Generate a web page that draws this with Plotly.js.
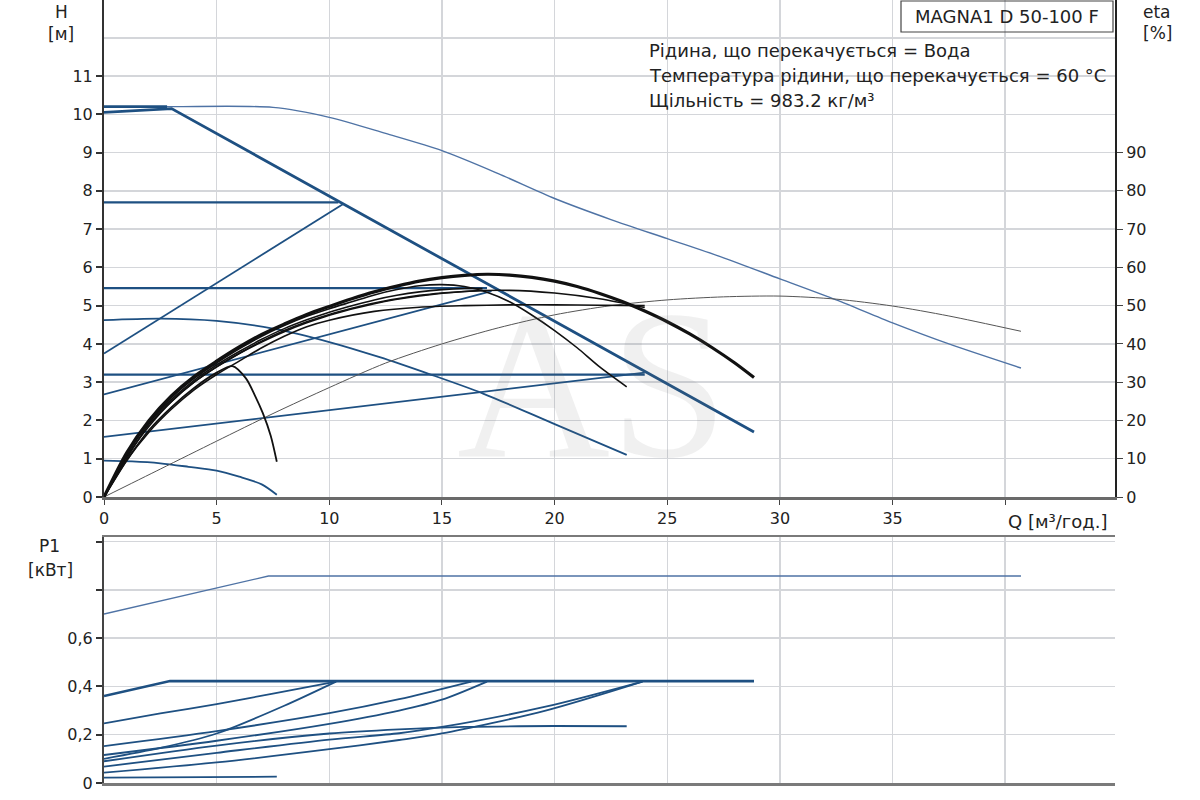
<!DOCTYPE html>
<html>
<head>
<meta charset="utf-8">
<script src="https://cdn.plot.ly/plotly-3.0.1.min.js"></script>
<style>html,body{margin:0;padding:0;background:#fff;}#chart{width:1200px;height:800px;}</style>
</head>
<body>
<div id="chart"></div>
<script>
// ---------- H (head) curves, blue, left axis [m] ----------
const Q_maxCurve = [0, 3, 7.5, 10, 12.5, 15, 17.5, 20, 22.5, 25, 27.5, 30, 32.5, 35, 37.5, 40.7];
const H_maxCurve = [10.2, 10.2, 10.18, 9.92, 9.5, 9.05, 8.45, 7.8, 7.25, 6.75, 6.25, 5.7, 5.15, 4.55, 4.0, 3.37];

const Q_cp10 = [0, 2.8];           const H_cp10 = [10.2, 10.2];
const Q_ppMax = [0, 3, 28.85];     const H_ppMax = [10.05, 10.15, 1.7];
const Q_cp77 = [0, 10.4];          const H_cp77 = [7.7, 7.7];
const Q_pp2 = [0, 10.6];           const H_pp2 = [3.75, 7.65];
const Q_cp55 = [0, 17.0];          const H_cp55 = [5.46, 5.46];
const Q_pp3 = [0, 17.2];           const H_pp3 = [2.68, 5.38];
const Q_cp32 = [0, 24.0];          const H_cp32 = [3.2, 3.2];
const Q_pp4 = [0, 24.0];           const H_pp4 = [1.57, 3.25];
const Q_fix1 = [0, 2.5, 5, 7.5, 10, 12.2, 14.5, 16.8, 19.9, 23.2];
const H_fix1 = [4.62, 4.66, 4.6, 4.4, 4.05, 3.66, 3.2, 2.71, 1.93, 1.1];
const Q_fix2 = [0, 1.25, 2.5, 3.75, 5, 6, 7, 7.67];
const H_fix2 = [0.95, 0.93, 0.88, 0.79, 0.69, 0.53, 0.33, 0.06];

// ---------- eta (efficiency) curves, black, right axis [%] ----------
const Q_etaA = [0, 1, 2, 3, 4, 5, 6, 7, 8, 9, 10, 11, 12, 13, 14, 15, 16, 17, 18, 19, 20, 21, 22, 23, 24, 25, 26, 27, 28, 28.85];
const E_etaA = [0, 11.5, 20, 26.5, 31.5, 35.5, 39.2, 42.5, 45.2, 47.7, 49.8, 51.8, 53.6, 55.1, 56.4, 57.3, 57.9, 58.2, 58, 57.4, 56.4, 55, 53.2, 51.1, 48.6, 45.8, 42.6, 39, 35, 31.2];
const Q_etaB = [0, 1, 2, 3, 4, 5, 6, 7, 8, 9, 10, 11, 12, 13, 14, 15, 16, 17, 18, 19, 20, 21, 22, 23.2];
const E_etaB = [0, 11, 19.5, 26, 31, 35, 38.7, 42, 44.8, 47.2, 49.2, 51, 52.8, 54.2, 55.2, 55.5, 55, 53.5, 51, 47.5, 43.5, 39, 34, 28.8];
const Q_etaC1 = [0, 1, 2, 3, 4, 5, 6, 7, 8, 9, 10, 12, 14, 16, 18, 20, 22, 24];
const E_etaC1 = [0, 10.5, 18.5, 25, 30, 34, 37.5, 40.5, 43.2, 45.5, 47.5, 50.5, 52.5, 53.7, 54, 53.3, 51.8, 49.5];
const Q_etaC2 = [0, 1, 2, 3, 4, 5, 6, 7, 8, 9, 10, 12, 14, 16, 18, 20, 22, 24];
const E_etaC2 = [0, 9.5, 17, 23, 28, 32, 35.5, 39, 42, 44.5, 46.2, 48.5, 49.6, 50, 50.2, 50.2, 50.1, 50];
const Q_etaD = [0, 1, 2, 3, 4, 5, 6, 7, 8, 9, 10, 11, 12, 13, 14, 15, 16, 16.8];
const E_etaD = [0, 11, 19.5, 25.5, 30.5, 34.5, 38, 41.2, 44, 46.3, 48.3, 50, 51.5, 52.7, 53.6, 54.2, 54.5, 54.5];
const Q_etaE = [0, 1, 2, 3, 4, 5, 6, 7, 8, 9, 10, 11, 12, 13, 14, 15, 16, 16.8];
const E_etaE = [0, 10, 19, 25, 30, 34, 37.5, 40.7, 43.5, 45.8, 47.7, 49.3, 50.7, 51.8, 52.7, 53.3, 53.7, 54];
const Q_etaF = [0, 1, 2, 3, 4, 5, 5.7, 6.3, 6.7, 7.05, 7.4, 7.67];
const E_etaF = [0, 9.5, 17.5, 23.5, 28.5, 32.5, 34.2, 31, 26.5, 21.9, 16, 9.2];
const Q_etaG = [0, 2.5, 5, 7.5, 10, 12.5, 15, 17.5, 20, 22.5, 25, 27.5, 30, 32.5, 35, 37.5, 40.7];
const E_etaG = [0, 7.3, 14.6, 21.8, 28.6, 35.0, 40.0, 44.2, 47.6, 50.0, 51.5, 52.3, 52.5, 51.7, 49.9, 47.3, 43.3];

// ---------- P1 (power) curves, blue, bottom panel [kW] ----------
const Q_pA = [0, 2.8, 5, 7.3, 40.7];                 const P_pA = [0.70, 0.76, 0.807, 0.857, 0.857];
const Q_pB = [0, 2.93, 28.85];                       const P_pB = [0.36, 0.422, 0.422];
const Q_pC = [0, 2.5, 5, 7.5, 10.3];                 const P_pC = [0.247, 0.288, 0.327, 0.37, 0.42];
const Q_pD = [0, 2.5, 5, 8, 10.3];                   const P_pD = [0.10, 0.145, 0.205, 0.32, 0.42];
const Q_pE = [0, 5, 10, 13.1, 16.3];                 const P_pE = [0.153, 0.215, 0.289, 0.347, 0.42];
const Q_pF = [0, 5, 10, 13.1, 15, 17.0];             const P_pF = [0.116, 0.175, 0.245, 0.30, 0.345, 0.42];
const Q_pG = [0, 5, 10, 13.1, 16, 20, 23.2];         const P_pG = [0.09, 0.155, 0.205, 0.222, 0.232, 0.236, 0.235];
const Q_pH = [0, 5, 10, 13.1, 15, 19.6, 23.9];       const P_pH = [0.068, 0.125, 0.18, 0.206, 0.232, 0.316, 0.42];
const Q_pI = [0, 5, 10, 13.1, 15, 19.6, 23.9];       const P_pI = [0.043, 0.085, 0.14, 0.178, 0.205, 0.30, 0.42];
const Q_pJ = [0, 7.67];                              const P_pJ = [0.022, 0.026];

// ---------- ticks ----------
const qTickVals = [0, 5, 10, 15, 20, 25, 30, 35, 40];
const qTickText = ['0', '5', '10', '15', '20', '25', '30', '35', ''];
const hTickVals = [0, 1, 2, 3, 4, 5, 6, 7, 8, 9, 10, 11];
const etaTickVals = [0, 10, 20, 30, 40, 50, 60, 70, 80, 90];
const pTickVals = [0, 0.2, 0.4, 0.6, 0.8, 1.0];
const pTickText = ['0', '0,2', '0,4', '0,6', '', ''];

const BLUE = '#1e5082';
const BLUE_L = '#4f73a5';
const FONT = 'DejaVu Sans, Liberation Sans, Arial, sans-serif';

function ln(x, y, color, width, axes, shape) {
  return {
    x: x, y: y, type: 'scatter', mode: 'lines',
    line: {color: color, width: width, shape: shape || 'linear', smoothing: 0.8},
    xaxis: axes[0], yaxis: axes[1], hoverinfo: 'skip', showlegend: false
  };
}
const H = ['x', 'y'], E = ['x', 'y2'], P = ['x2', 'y3'];

const traces = [
  ln(Q_etaG, E_etaG, '#555555', 1, E, 'spline'),
  ln(Q_etaC2, E_etaC2, '#111111', 1.6, E, 'spline'),
  ln(Q_etaC1, E_etaC1, '#111111', 1.6, E, 'spline'),
  ln(Q_etaE, E_etaE, '#111111', 1.6, E, 'spline'),
  ln(Q_etaD, E_etaD, '#111111', 1.6, E, 'spline'),
  ln(Q_etaB, E_etaB, '#111111', 1.6, E, 'spline'),
  ln(Q_etaF, E_etaF, '#111111', 1.8, E, 'spline'),
  ln(Q_etaA, E_etaA, '#111111', 3.2, E, 'spline'),
  ln(Q_maxCurve, H_maxCurve, BLUE_L, 1.4, H, 'spline'),
  ln(Q_cp10, H_cp10, BLUE, 2.6, H),
  ln(Q_cp77, H_cp77, BLUE, 2.2, H),
  ln(Q_pp2, H_pp2, BLUE, 1.8, H),
  ln(Q_cp55, H_cp55, BLUE, 2.2, H),
  ln(Q_pp3, H_pp3, BLUE, 1.8, H),
  ln(Q_cp32, H_cp32, BLUE, 2.2, H),
  ln(Q_pp4, H_pp4, BLUE, 1.8, H),
  ln(Q_fix1, H_fix1, BLUE, 1.8, H, 'spline'),
  ln(Q_fix2, H_fix2, BLUE, 1.8, H, 'spline'),
  ln(Q_ppMax, H_ppMax, BLUE, 2.8, H),
  ln(Q_pA, P_pA, BLUE_L, 1.4, P),
  ln(Q_pB, P_pB, BLUE, 2.6, P),
  ln(Q_pC, P_pC, BLUE, 1.8, P, 'spline'),
  ln(Q_pD, P_pD, BLUE, 1.8, P, 'spline'),
  ln(Q_pE, P_pE, BLUE, 1.8, P, 'spline'),
  ln(Q_pF, P_pF, BLUE, 1.8, P, 'spline'),
  ln(Q_pG, P_pG, BLUE, 1.8, P, 'spline'),
  ln(Q_pH, P_pH, BLUE, 1.8, P, 'spline'),
  ln(Q_pI, P_pI, BLUE, 1.8, P, 'spline'),
  ln(Q_pJ, P_pJ, BLUE, 1.8, P)
];

const X0 = 104 / 1200, X1 = 1115 / 1200;
const QMAX = 1011 / 22.53;
const tickFont = {family: FONT, size: 16, color: '#222'};
const gridC = '#d4d6da';

function txt(text, px, py, size, xanchor) {
  return {text: text, xref: 'paper', yref: 'paper', x: px / 1200, y: 1 - py / 800,
    xanchor: xanchor || 'center', yanchor: 'middle', showarrow: false,
    font: {family: FONT, size: size, color: '#222'}};
}

const layout = {
  width: 1200, height: 800,
  margin: {l: 0, r: 0, t: 0, b: 0},
  paper_bgcolor: '#ffffff', plot_bgcolor: '#ffffff',
  showlegend: false,
  xaxis: {
    domain: [X0, X1], range: [0, QMAX], anchor: 'y',
    tickvals: qTickVals, ticktext: qTickText, tickfont: tickFont,
    ticks: 'outside', ticklen: 5, tickcolor: '#444',
    showgrid: true, gridcolor: gridC, gridwidth: 1.5,
    showline: true, linecolor: '#6a6a6a', linewidth: 2.5, mirror: true,
    zeroline: false, fixedrange: true
  },
  yaxis: {
    domain: [(800 - 497) / 800, 1], range: [0, 497 / 38.27], anchor: 'x',
    tickvals: hTickVals, tickfont: tickFont,
    ticks: 'outside', ticklen: 6, tickcolor: '#333', tickwidth: 2,
    showgrid: true, gridcolor: gridC, gridwidth: 1.5,
    minor: {dtick: 1, tick0: 0, showgrid: true, gridcolor: gridC, gridwidth: 1.5, ticks: ''},
    showline: true, linecolor: '#333', linewidth: 2,
    zeroline: false, fixedrange: true
  },
  yaxis2: {
    overlaying: 'y', side: 'right', anchor: 'x',
    range: [0, 4970 / 38.27],
    tickvals: etaTickVals, tickfont: tickFont,
    ticks: 'outside', ticklen: 6, tickcolor: '#444',
    showgrid: false, zeroline: false,
    showline: true, linecolor: '#222', linewidth: 2, fixedrange: true
  },
  xaxis2: {
    domain: [X0, X1], range: [0, QMAX], anchor: 'y3',
    tickvals: [0, 5, 10, 15, 20, 25, 30, 35, 40], showticklabels: false, ticks: '',
    showgrid: true, gridcolor: gridC, gridwidth: 1.5,
    showline: true, linecolor: '#7a7a7a', linewidth: 2.5, mirror: true,
    zeroline: false, fixedrange: true
  },
  yaxis3: {
    domain: [(800 - 783) / 800, (800 - 537) / 800], range: [0, 246 / 241.5], anchor: 'x2',
    tickvals: pTickVals, ticktext: pTickText, tickfont: tickFont,
    ticks: 'outside', ticklen: 6, tickcolor: '#333', tickwidth: 2,
    showgrid: true, gridcolor: gridC, gridwidth: 1.5,
    showline: true, linecolor: '#444', linewidth: 2,
    zeroline: false, fixedrange: true
  },
  shapes: [
    {type: 'rect', xref: 'paper', yref: 'paper', layer: 'between',
     x0: 640 / 1200, x1: 1113 / 1200, y0: 1 - 112 / 800, y1: 1 - 40 / 800,
     fillcolor: '#ffffff', line: {width: 0}},
    {type: 'rect', xref: 'paper', yref: 'paper', layer: 'above',
     x0: 901 / 1200, x1: 1113 / 1200, y0: 1 - 32 / 800, y1: 1 - 1 / 800,
     fillcolor: 'rgba(255,255,255,0)', line: {color: '#444', width: 1.2}}
  ],
  annotations: [
    {text: 'AS', xref: 'paper', yref: 'paper', x: 592 / 1200, y: 1 - 384 / 800,
     xanchor: 'center', yanchor: 'middle', showarrow: false,
     font: {family: 'Liberation Serif, DejaVu Serif, serif', size: 212, color: 'rgba(120,120,120,0.11)'}},
    txt('MAGNA1 D 50-100 F', 1007, 16, 18),
    txt('Рідина, що перекачується = Вода', 647, 51, 18, 'left'),
    txt('Температура рідини, що перекачується = 60 °C', 647, 76, 18, 'left'),
    txt('Щільність = 983.2 кг/м³', 647, 100, 18, 'left'),
    txt('H', 61, 12, 17),
    txt('[м]', 61, 34, 17),
    txt('eta', 1157, 12, 17),
    txt('[%]', 1157, 33, 17),
    txt('Q [м³/год.]', 1057, 521, 18),
    txt('P1', 49, 546, 17),
    txt('[кВт]', 50, 570, 17)
  ]
};

Plotly.newPlot('chart', traces, layout, {displayModeBar: false, staticPlot: true});
</script>
</body>
</html>
